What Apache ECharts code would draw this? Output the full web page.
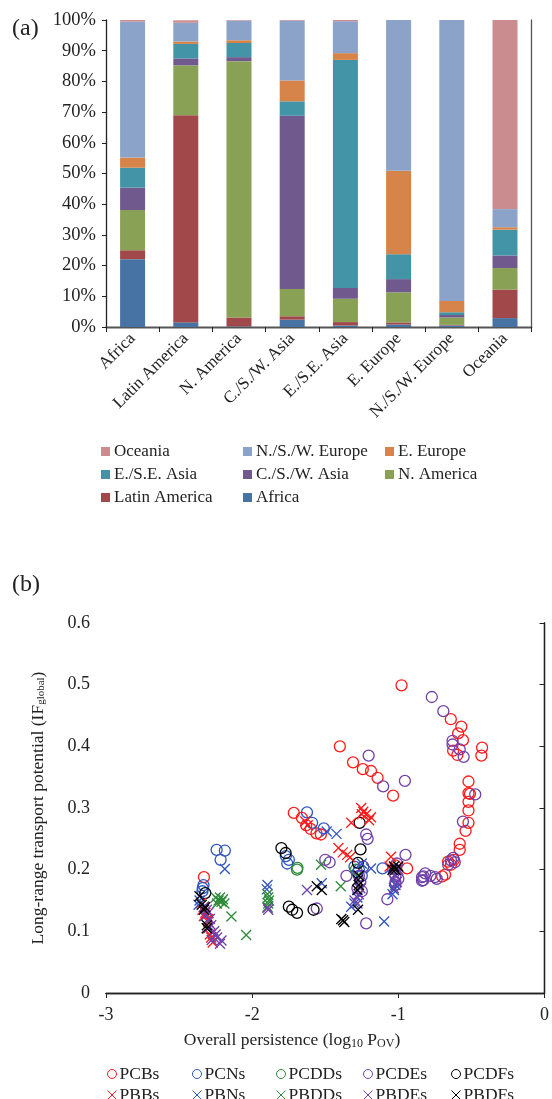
<!DOCTYPE html>
<html>
<head>
<meta charset="utf-8">
<script src="https://cdn.jsdelivr.net/npm/echarts@6/dist/echarts.min.js"></script>
<style>
  html, body { margin: 0; padding: 0; background: #fff; }
  #chart { width: 552px; height: 1099px; }
</style>
</head>
<body>
<div id="chart"></div>
<script>
// ---- (a) share of each source region in the impact received by each region (%) ----
const regions = ['Africa', 'Latin America', 'N. America', 'C./S./W. Asia', 'E./S.E. Asia', 'E. Europe', 'N./S./W. Europe', 'Oceania'];
const fromAfrica       = [22.1,  1.5,  0.2,  2.4,  0.5,  0.8,  0.5,  2.9];
const fromLatinAmerica = [ 2.9, 67.5,  2.9,  1.1,  1.1,  0.7,  0.2,  9.3];
const fromNAmerica     = [13.1, 16.2, 83.5,  8.9,  7.6,  9.8,  2.4,  7.0];
const fromCSWAsia      = [ 7.3,  2.3,  1.3, 56.4,  3.5,  4.3,  0.8,  4.1];
const fromESEAsia      = [ 6.5,  4.7,  4.6,  4.7, 74.3,  8.1,  0.9,  8.4];
const fromEEurope      = [ 3.3,  0.8,  0.9,  6.8,  2.2, 27.2,  3.7,  0.8];
const fromNSWEurope    = [44.3,  6.1,  6.4, 19.5, 10.4, 49.1, 91.5,  5.9];
const fromOceania      = [ 0.5,  0.8,  0.2,  0.2,  0.4,  0.0,  0.0, 61.6];
const pctTicks = [0, 10, 20, 30, 40, 50, 60, 70, 80, 90, 100];

// ---- (b) overall persistence (log10 Pov) vs. long-range transport potential ----
const PCBs = [[-2.33,0.188],[-1.715,0.292],[-1.66,0.284],[-1.63,0.272],[-1.60,0.266],[-1.56,0.259],[-1.53,0.257],
  [-1.40,0.400],[-1.31,0.374],[-1.243,0.363],[-1.187,0.360],[-1.142,0.349],[-1.036,0.320],[-0.978,0.499],
  [-1.02,0.207],[-0.94,0.202],[-0.70,0.189],[-0.68,0.192],[-0.66,0.213],[-0.64,0.208],[-0.62,0.216],
  [-0.58,0.232],[-0.58,0.242],[-0.54,0.263],[-0.52,0.276],[-0.52,0.296],[-0.52,0.310],[-0.52,0.324],[-0.51,0.323],[-0.52,0.343],
  [-0.641,0.444],[-0.569,0.432],[-0.591,0.421],[-0.558,0.410],[-0.625,0.393],[-0.596,0.386],[-0.427,0.398],[-0.432,0.385]];
const PCNs = [[-2.243,0.232],[-2.187,0.231],[-2.216,0.216],[-2.333,0.175],[-2.338,0.170],[-2.34,0.165],
  [-1.77,0.222],[-1.749,0.216],[-1.76,0.210],[-1.625,0.293],[-1.59,0.276],[-1.51,0.267],
  [-1.108,0.202],[-1.30,0.205],[-1.28,0.195],[-1.27,0.200],[-1.25,0.190]];
const PCDDs = [[-1.693,0.200],[-1.69,0.203],[-1.29,0.200]];
const PCDEs = [[-0.771,0.480],[-0.692,0.457],[-0.629,0.409],[-0.629,0.403],[-0.580,0.395],[-0.553,0.383],[-0.474,0.322],[-0.558,0.278],
  [-0.838,0.188],[-0.816,0.194],[-0.838,0.182],[-0.748,0.188],[-0.737,0.185],[-0.78,0.190],[-0.659,0.208],[-0.625,0.219],[-0.614,0.212],[-0.64,0.215],
  [-1.203,0.385],[-1.104,0.335],[-0.955,0.344],[-1.22,0.257],[-1.21,0.250],[-1.50,0.216],[-1.47,0.212],[-1.355,0.190],
  [-1.075,0.152],[-1.22,0.113],[-1.558,0.137],[-0.951,0.224],[-0.827,0.189],[-0.83,0.183],
  [-1.02,0.200],[-1.02,0.190],[-1.02,0.180],[-1.01,0.210],[-1.02,0.175],[-1.00,0.185],[-1.03,0.195],
  [-1.27,0.190],[-1.26,0.180],[-1.25,0.165],[-1.28,0.170],[-1.24,0.205]];
const PCDFs = [[-2.321,0.162],[-1.800,0.235],[-1.771,0.227],[-1.749,0.140],[-1.726,0.135],[-1.693,0.130],[-1.58,0.135],
  [-1.265,0.276],[-1.259,0.233],[-1.276,0.211]];
const PBBs = [[-2.35,0.146],[-2.34,0.135],[-2.33,0.125],[-2.32,0.130],[-2.30,0.120],[-2.31,0.105],[-2.29,0.095],[-2.28,0.090],
  [-2.27,0.082],[-2.33,0.140],[-2.30,0.115],[-1.637,0.278],[-1.62,0.272],
  [-1.322,0.276],[-1.254,0.300],[-1.24,0.294],[-1.22,0.290],[-1.20,0.280],[-1.187,0.285],[-1.25,0.290],
  [-1.41,0.235],[-1.38,0.228],[-1.35,0.224],[-1.33,0.220],[-1.05,0.221],[-1.06,0.205]];
const PBNs = [[-2.187,0.201],[-2.367,0.143],[-2.36,0.150],[-1.895,0.175],[-1.90,0.168],[-1.49,0.262],[-1.423,0.258],
  [-1.187,0.202],[-1.097,0.116],[-1.322,0.140],[-1.524,0.178],[-1.03,0.167],[-1.04,0.160],[-1.25,0.210],
  [-1.28,0.155],[-1.30,0.145],[-1.02,0.175]];
const PBDDs = [[-2.25,0.155],[-2.23,0.150],[-2.21,0.148],[-2.19,0.145],[-2.24,0.145],[-2.22,0.155],[-2.20,0.152],
  [-2.142,0.124],[-2.041,0.094],[-1.895,0.160],[-1.89,0.155],[-1.885,0.150],[-1.89,0.145],[-1.895,0.140],
  [-1.529,0.208],[-1.394,0.173]];
const PBDEs = [[-2.33,0.140],[-2.31,0.135],[-2.30,0.130],[-2.32,0.125],[-2.29,0.120],[-2.28,0.110],[-2.30,0.105],[-2.26,0.100],
  [-2.25,0.095],[-2.277,0.086],[-2.22,0.080],[-2.24,0.090],[-2.21,0.085],[-1.895,0.138],[-1.89,0.135],
  [-1.625,0.167],[-1.30,0.150],[-1.28,0.145],[-1.02,0.190],[-1.01,0.180],[-1.03,0.170],[-1.00,0.200],[-1.26,0.170],[-1.27,0.160]];
const PBDFs = [[-2.360,0.157],[-2.345,0.143],[-2.321,0.139],[-2.33,0.135],[-2.310,0.110],[-2.31,0.105],
  [-1.378,0.118],[-1.37,0.115],[-1.39,0.120],[-1.276,0.135],[-1.558,0.173],[-1.524,0.167],
  [-1.276,0.183],[-1.27,0.175],[-1.28,0.167],[-1.27,0.190],[-1.03,0.205],[-1.02,0.200],[-1.04,0.200],[-1.00,0.205]];
const persistenceTicks = [-3, -2, -1, 0];
const ifTicks = [0, 0.1, 0.2, 0.3, 0.4, 0.5, 0.6];

const FONT = 'Liberation Serif';
const TXT = '#222';

const stackDefs = [
  ['Africa', fromAfrica, '#4672A4'],
  ['Latin America', fromLatinAmerica, '#A0484A'],
  ['N. America', fromNAmerica, '#88A154'],
  ['C./S./W. Asia', fromCSWAsia, '#705A8D'],
  ['E./S.E. Asia', fromESEAsia, '#4494A8'],
  ['E. Europe', fromEEurope, '#D6844A'],
  ['N./S./W. Europe', fromNSWEurope, '#8BA3C9'],
  ['Oceania', fromOceania, '#CB8C8F']
];

const CROSS = 'path://M0,0L10,10M10,0L0,10';
const scatterDefs = [
  ['PCBs', PCBs, '#FF1A1A', 'circle'],
  ['PCNs', PCNs, '#2E55C0', 'circle'],
  ['PCDDs', PCDDs, '#2E8B3A', 'circle'],
  ['PCDEs', PCDEs, '#7040A8', 'circle'],
  ['PCDFs', PCDFs, '#000000', 'circle'],
  ['PBBs', PBBs, '#FF1A1A', CROSS],
  ['PBNs', PBNs, '#2E55C0', CROSS],
  ['PBDDs', PBDDs, '#2E8B3A', CROSS],
  ['PBDEs', PBDEs, '#7040A8', CROSS],
  ['PBDFs', PBDFs, '#000000', CROSS]
];

const series = [];
stackDefs.forEach(([name, vals, color]) => {
  series.push({
    name, type: 'bar', stack: 'share', xAxisIndex: 0, yAxisIndex: 0,
    barWidth: 25, data: vals, itemStyle: { color },
    emphasis: { disabled: true }
  });
});
scatterDefs.forEach(([name, pts, color, symbol]) => {
  series.push({
    name, type: 'scatter', xAxisIndex: 2, yAxisIndex: 2,
    symbol, symbolSize: symbol === 'circle' ? 11 : 10,
    data: pts,
    itemStyle: { color: 'transparent', borderColor: color, borderWidth: 1.3, opacity: 1 },
    emphasis: { disabled: true }
  });
});

// legend for (a): three columns, listed top of stack first
const legendA = [
  ['Oceania', 'E./S.E. Asia', 'Latin America'],
  ['N./S./W. Europe', 'C./S./W. Asia', 'Africa'],
  ['E. Europe', 'N. America']
].map((names, i) => ({
  orient: 'vertical', left: [101, 243, 385][i], top: 443, padding: 0, height: 90,
  itemWidth: 9, itemHeight: 9, itemGap: 6, icon: 'rect',
  selectedMode: false,
  textStyle: { fontFamily: FONT, fontSize: 17, color: TXT, padding: [0, 0, 0, -1] },
  data: names
}));

// legend for (b): five columns, circle family above cross family
const legendB = [0, 1, 2, 3, 4].map(i => {
  const a = scatterDefs[i], b = scatterDefs[i + 5];
  return {
    orient: 'vertical', left: [107, 192, 276, 363, 451][i], top: 1065, padding: 0, height: 80,
    itemWidth: 9, itemHeight: 9, itemGap: 3, selectedMode: false,
    textStyle: { fontFamily: FONT, fontSize: 17.5, color: TXT, padding: [0, 0, 0, -2] },
    data: [a, b].map(d => ({
      name: d[0], icon: d[3],
      itemStyle: { color: 'transparent', borderColor: d[2], borderWidth: 1 }
    }))
  };
});

const axisLine = c => ({ show: true, lineStyle: { color: c, width: 1.3 } });

const option = {
  animation: false,
  backgroundColor: '#fff',
  textStyle: { fontFamily: FONT },
  grid: [
    { left: 106, top: 20, width: 425.6, height: 307 },
    { left: 106, top: 623, width: 445, height: 370 }
  ],
  legend: legendA.concat(legendB),
  xAxis: [
    { type: 'category', gridIndex: 0, data: regions,
      axisLine: axisLine('#222'),
      axisTick: { show: true, length: 5, lineStyle: { color: '#222' } },
      axisLabel: { rotate: 45, margin: 9, fontFamily: FONT, fontSize: 17, color: TXT, interval: 0 } },
    { type: 'category', gridIndex: 0, position: 'top', data: regions,
      axisLine: axisLine('#555'), axisTick: { show: false }, axisLabel: { show: false } },
    { type: 'value', gridIndex: 1, min: -3, max: 0, interval: 1,
      axisLine: axisLine('#222'),
      axisTick: { show: true, length: 5, lineStyle: { color: '#222' } },
      splitLine: { show: false },
      axisLabel: { margin: 13, fontFamily: FONT, fontSize: 18, color: TXT,
        formatter: v => persistenceTicks.includes(v) ? String(v) : '' } },
    { type: 'value', gridIndex: 1, position: 'top', min: -3, max: 0, interval: 1,
      axisLine: axisLine('#222'), axisTick: { show: false }, axisLabel: { show: false }, splitLine: { show: false } }
  ],
  yAxis: [
    { type: 'value', gridIndex: 0, min: 0, max: 100, interval: 10,
      axisLine: axisLine('#222'),
      axisTick: { show: true, length: 4, lineStyle: { color: '#222' } },
      splitLine: { show: false },
      axisLabel: { margin: 10, fontFamily: FONT, fontSize: 18.5, color: TXT,
        formatter: v => pctTicks.includes(v) ? v + '%' : '' } },
    { type: 'value', gridIndex: 0, position: 'right', min: 0, max: 100,
      axisLine: axisLine('#555'), axisTick: { show: false }, axisLabel: { show: false }, splitLine: { show: false } },
    { type: 'value', gridIndex: 1, min: 0, max: 0.6, interval: 0.1,
      axisLine: axisLine('#222'), axisTick: { show: false }, splitLine: { show: false },
      axisLabel: { margin: 16, fontFamily: FONT, fontSize: 18, color: TXT,
        formatter: v => {
          const t = ifTicks.find(k => Math.abs(k - v) < 1e-9);
          return t === undefined ? '' : (t === 0 ? '0' : t.toFixed(1));
        } } },
    { type: 'value', gridIndex: 1, position: 'right', min: 0, max: 0.6, interval: 0.1,
      axisLine: axisLine('#222'),
      axisTick: { show: true, inside: true, length: 5, lineStyle: { color: '#222' } },
      axisLabel: { show: false }, splitLine: { show: false } }
  ],
  graphic: [
    { type: 'text', left: 12, top: 17, style: { text: '(a)', font: '24px "Liberation Serif"', fill: TXT } },
    { type: 'text', left: 12, top: 573, style: { text: '(b)', font: '24px "Liberation Serif"', fill: TXT } },
    { type: 'text', x: 292, y: 1040,
      style: {
        text: '{a|Overall persistence (log}{s|10}{a| P}{s|OV}{a|)}',
        align: 'center', verticalAlign: 'middle', fill: TXT,
        rich: {
          a: { fontFamily: FONT, fontSize: 17.5, fill: TXT },
          s: { fontFamily: FONT, fontSize: 12, fill: TXT, padding: [7, 0, 0, 0] }
        }
      } },
    { type: 'text', x: 38, y: 808, rotation: Math.PI / 2,
      style: {
        text: '{a|Long-range transport potential (IF}{s|global}{a|)}',
        align: 'center', verticalAlign: 'middle', fill: TXT,
        rich: {
          a: { fontFamily: FONT, fontSize: 17.5, fill: TXT },
          s: { fontFamily: FONT, fontSize: 11, fill: TXT, padding: [7, 0, 0, 0] }
        }
      } }
  ],
  series
};

const chart = echarts.init(document.getElementById('chart'), null, { renderer: 'canvas' });
chart.setOption(option);
</script>
</body>
</html>
